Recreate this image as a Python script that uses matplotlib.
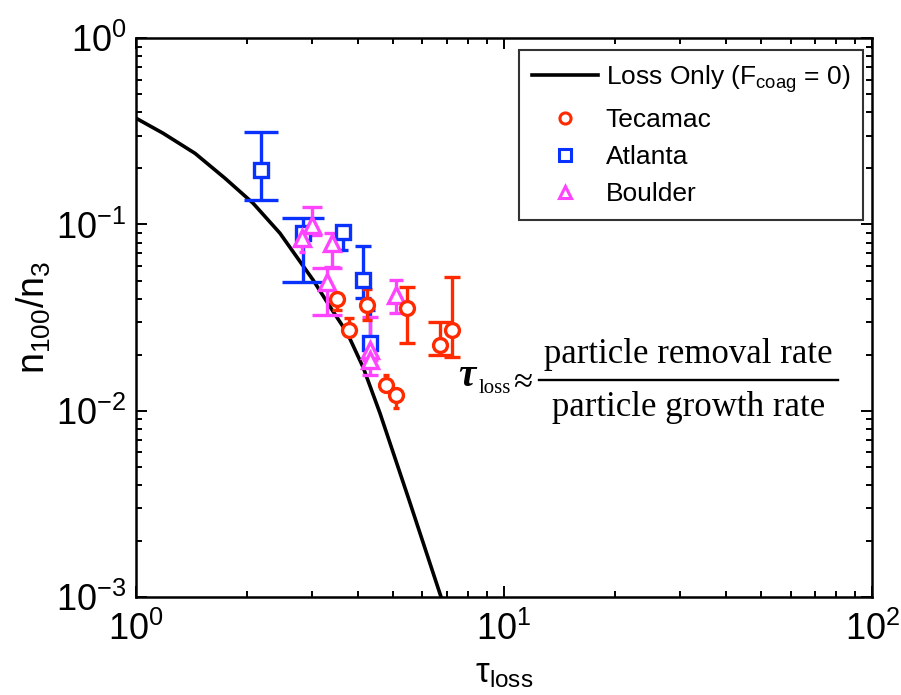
import math
import matplotlib
matplotlib.use('Agg')
import matplotlib.pyplot as plt
from matplotlib.lines import Line2D
from matplotlib.ticker import LogLocator, FuncFormatter, NullFormatter

plt.rcParams['font.family'] = ['Liberation Sans', 'DejaVu Sans']
plt.rcParams['mathtext.default'] = 'regular'
plt.rcParams['axes.unicode_minus'] = False

# model curve: loss only, no coagulation
loss_tau = [1.0, 1.184, 1.446, 1.745, 2.08, 2.46, 3.03, 3.37, 3.75, 4.14, 4.60, 5.52, 6.74, 7.0]
loss_ratio = [0.372, 0.309, 0.241, 0.177, 0.130, 0.0898, 0.0502, 0.036, 0.0261,
              0.0171, 0.0097, 0.00331, 0.00100, 0.00072]

# Tecamac
tec_x = [3.52, 3.79, 4.24, 5.45, 7.22, 6.70, 4.78, 5.09]
tec_y = [0.0397, 0.0271, 0.0369, 0.0355, 0.0271, 0.0225, 0.0137, 0.0121]
tec_lo = [0.0347, 0.0271, 0.0306, 0.0231, 0.0194, 0.0199, 0.0137, 0.0103]
tec_hi = [0.0424, 0.0314, 0.0450, 0.0460, 0.0521, 0.0299, 0.0155, 0.0121]

# Atlanta
atl_x = [2.19, 2.84, 3.65, 4.14, 4.32]
atl_y = [0.195, 0.0898, 0.091, 0.0502, 0.0231]
atl_lo = [0.135, 0.049, 0.0728, 0.0402, 0.0231]
atl_hi = [0.313, 0.108, 0.091, 0.0765, 0.0347]

# Boulder
bou_x = [3.01, 2.83, 3.41, 3.30, 5.09, 4.32, 4.32]
bou_y = [0.099, 0.0844, 0.0794, 0.049, 0.0417, 0.0211, 0.0187]
bou_lo = [0.0877, 0.071, 0.059, 0.0326, 0.0334, 0.0187, 0.0155]
bou_hi = [0.124, 0.0844, 0.0898, 0.0582, 0.0502, 0.0318, 0.0211]

red = '#FF2A00'
blue = '#0A32FF'
pink = '#FF44FF'

fig = plt.figure(figsize=(9.01, 6.95), dpi=100)
ax = fig.add_axes([0.151, 0.141, 0.817, 0.804])

ax.plot(loss_tau, loss_ratio, color='black', lw=2.6, zorder=2)


def draw_series(xs, ys, lo, hi, caps, color, marker, ms):
    for x, y, l, h, c in zip(xs, ys, lo, hi, caps):
        ax.errorbar([x], [y], yerr=[[y - l], [h - y]], fmt='none',
                    ecolor=color, elinewidth=2.4, capsize=c, capthick=2.4, zorder=3)
        ax.plot([x], [y], marker=marker, ms=ms, mfc='white', mec=color,
                mew=2.4, ls='none', zorder=4)


# cap sizes are half-widths in points
draw_series(atl_x, atl_y, atl_lo, atl_hi, [12, 15, 3.5, 6, 3.5], blue, 's', 10)
draw_series(bou_x, bou_y, bou_lo, bou_hi, [7.5, 2, 6, 11, 5, 6, 6], pink, '^', 12)
draw_series(tec_x, tec_y, tec_lo, tec_hi, [3.5, 3.5, 3.5, 5.5, 5.5, 8.5, 2.5, 2], red, 'o', 10)

ax.set_xscale('log')
ax.set_yscale('log')
ax.set_xlim(1, 100)
ax.set_ylim(1e-3, 1)

ax.xaxis.set_major_locator(LogLocator(base=10, numticks=10))
ax.yaxis.set_major_locator(LogLocator(base=10, numticks=10))
ax.xaxis.set_minor_locator(LogLocator(base=10, subs=range(2, 10), numticks=20))
ax.yaxis.set_minor_locator(LogLocator(base=10, subs=range(2, 10), numticks=20))
fmt = FuncFormatter(lambda v, p: r'$10^{%d}$' % round(math.log10(v)))
ax.xaxis.set_major_formatter(fmt)
ax.yaxis.set_major_formatter(fmt)
ax.xaxis.set_minor_formatter(NullFormatter())
ax.yaxis.set_minor_formatter(NullFormatter())

ax.tick_params(which='both', direction='in', top=True, right=True, width=1.4)
ax.tick_params(which='major', length=8, labelsize=26, pad=7)
ax.tick_params(axis='x', which='major', pad=11)
ax.tick_params(which='minor', length=4.5)
for s in ax.spines.values():
    s.set_linewidth(1.8)

ax.set_xlabel(r'$\tau_{loss}$', fontsize=25, labelpad=6)
ax.set_ylabel(r'n$_{100}$/n$_3$', fontsize=27, labelpad=2)

handles = [
    Line2D([], [], color='black', lw=2.6),
    Line2D([], [], ls='none', marker='o', ms=8, mfc='white', mec=red, mew=2.2),
    Line2D([], [], ls='none', marker='s', ms=8, mfc='white', mec=blue, mew=2.2),
    Line2D([], [], ls='none', marker='^', ms=9, mfc='white', mec=pink, mew=2.2),
]
labels = [r'Loss Only (F$_{coag}$ = 0)', 'Tecamac', 'Atlanta', 'Boulder']
leg = ax.legend(handles, labels, loc='upper right', bbox_to_anchor=(0.988, 0.979),
                borderaxespad=0, fontsize=19, frameon=True, fancybox=False,
                handlelength=2.5, handletextpad=0.3, labelspacing=0.5,
                borderpad=0.5)
leg.get_frame().set_edgecolor('black')
leg.get_frame().set_linewidth(1.5)

# tau_loss approximation written on the plot
serif = 'Liberation Serif'
fig.text(0.508, 0.445, r'$\tau$', fontsize=28, family=serif, ha='left', va='baseline',
         fontstyle='italic', fontweight='bold')
fig.text(0.531, 0.435, 'loss', fontsize=15, family=serif, ha='left', va='baseline')
fig.text(0.569, 0.437, '≈', fontsize=25, family=serif, ha='left', va='baseline')
fig.text(0.764, 0.478, 'particle removal rate', fontsize=25, family=serif,
         ha='center', va='baseline')
fig.text(0.764, 0.402, 'particle growth rate', fontsize=25, family=serif,
         ha='center', va='baseline')
fig.add_artist(Line2D([0.598, 0.930], [0.453, 0.453], color='black', lw=1.7,
                      transform=fig.transFigure))

fig.savefig('out.png', dpi=100, facecolor='white')
